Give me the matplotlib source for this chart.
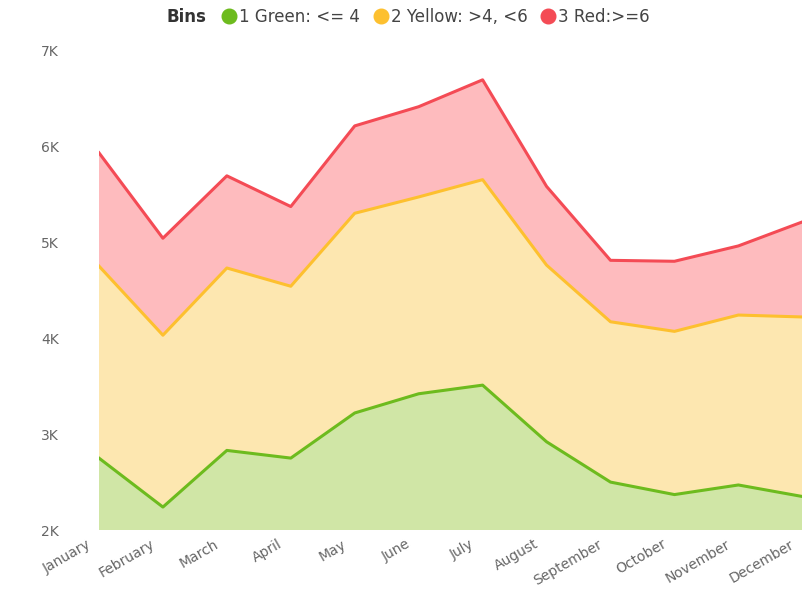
import numpy as np
import matplotlib
matplotlib.use('Agg')
import matplotlib.pyplot as plt
from matplotlib.lines import Line2D

plt.rcParams['font.family'] = ['DejaVu Sans']

months = ['January', 'February', 'March', 'April', 'May', 'June', 'July',
          'August', 'September', 'October', 'November', 'December']
green = [2750, 2240, 2830, 2750, 3220, 3420, 3510, 2920, 2500, 2370, 2470, 2350]
yellow = [2000, 1790, 1900, 1790, 2080, 2050, 2140, 1840, 1670, 1700, 1770, 1870]
red = [1180, 1010, 960, 830, 910, 940, 1040, 820, 640, 730, 720, 990]
labels = ['1 Green: <= 4', '2 Yellow: >4, <6', '3 Red:>=6']
yticks = [2000, 3000, 4000, 5000, 6000, 7000]
ytick_labels = ['2K', '3K', '4K', '5K', '6K', '7K']

line_cols = ['#6DBB1E', '#FDC02F', '#F44B55']
fill_cols = ['#D0E6A6', '#FDE7B0', '#FEBBBE']

x = np.arange(len(months))
fig = plt.figure(figsize=(8.02, 5.89), dpi=100)
ax = fig.add_axes([0.1234, 0.100, 0.877, 0.815])

ax.stackplot(x, green, yellow, red, colors=fill_cols, linewidth=0)
cum = np.cumsum([green, yellow, red], axis=0)
for i in range(3):
    ax.plot(x, cum[i], color=line_cols[i], lw=2.2, solid_joinstyle='round')

ax.set_xlim(0, 11)
ax.set_ylim(2000, 7000)
ax.set_yticks(yticks)
ax.set_yticklabels(ytick_labels)
ax.set_xticks(x)
ax.set_xticklabels([])
for s in ax.spines.values():
    s.set_visible(False)
ax.tick_params(axis='y', length=0, pad=29, labelsize=10, labelcolor='#666666')
ax.tick_params(axis='x', length=0)

# month labels, rotated and set a bit left of each tick
for xi, m in zip(x, months):
    ax.annotate(m, xy=(xi, 0), xycoords=('data', 'axes fraction'),
                xytext=(-13, -7), textcoords='offset pixels',
                rotation=30, ha='right', va='top', rotation_mode='anchor',
                fontsize=10, color='#666666', annotation_clip=False)

fig.text(166 / 802, 1 - 17 / 589, 'Bins', fontsize=12, fontweight='bold',
         color='#333333', va='center')
handles = [Line2D([], [], marker='o', linestyle='', markersize=10.5,
                  color=c) for c in line_cols]
fig.legend(handles, labels, loc='center left', bbox_to_anchor=(220 / 802, 1 - 17 / 589),
           ncol=3, frameon=False, handletextpad=0.05, columnspacing=0.7,
           handlelength=1.1, fontsize=12, labelcolor='#444444',
           borderaxespad=0, borderpad=0)

fig.savefig('out.png', dpi=100)
